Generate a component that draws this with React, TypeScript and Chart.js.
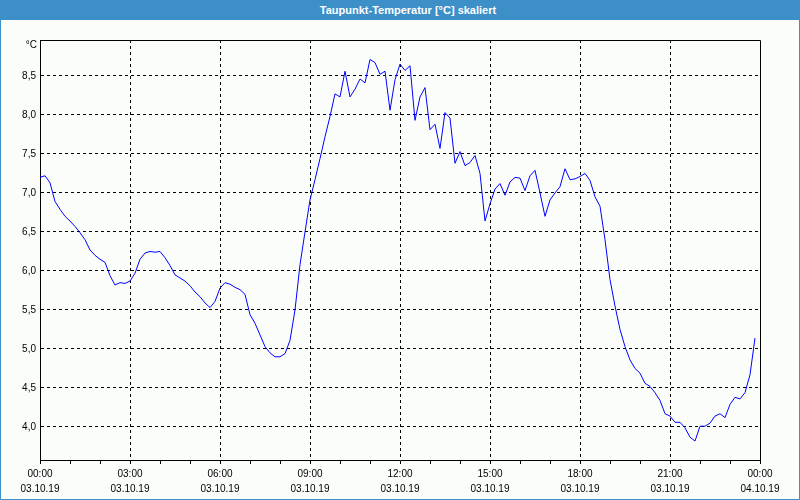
import React, { useEffect, useRef } from 'react';
import { Chart, registerables } from 'chart.js';

Chart.register(...registerables);

const chartTitle = 'Taupunkt-Temperatur [°C] skaliert';
const unitLabel = '°C';
const stepMinutes = 10;

// Dew point, one value every 10 minutes from 03.10.19 00:00 to 23:50
const dewPoint = [
  7.20, 7.22, 7.13, 6.89, 6.79, 6.70, 6.64, 6.57, 6.49, 6.40,
  6.27, 6.20, 6.15, 6.11, 5.94, 5.82, 5.85, 5.84, 5.87, 5.97,
  6.15, 6.23, 6.25, 6.24, 6.25, 6.17, 6.07, 5.95, 5.91, 5.87,
  5.81, 5.73, 5.67, 5.59, 5.53, 5.61, 5.78, 5.85, 5.83, 5.79,
  5.76, 5.70, 5.44, 5.33, 5.18, 5.03, 4.95, 4.90, 4.90, 4.94,
  5.11, 5.50, 6.08, 6.50, 6.91, 7.17, 7.44, 7.72, 7.98, 8.27,
  8.23, 8.56, 8.23, 8.33, 8.46, 8.41, 8.71, 8.67, 8.52, 8.56,
  8.06, 8.45, 8.65, 8.57, 8.63, 7.93, 8.23, 8.35, 7.81, 7.88,
  7.57, 8.03, 7.96, 7.38, 7.53, 7.35, 7.39, 7.48, 7.25, 6.64,
  6.86, 7.05, 7.12, 6.97, 7.14, 7.20, 7.19, 7.03, 7.22, 7.29,
  7.00, 6.70, 6.91, 7.00, 7.08, 7.31, 7.17, 7.18, 7.21, 7.25,
  7.16, 6.95, 6.83, 6.40, 5.89, 5.55, 5.25, 5.03, 4.86, 4.75,
  4.69, 4.56, 4.52, 4.44, 4.34, 4.17, 4.14, 4.06, 4.06, 3.99,
  3.87, 3.82, 4.01, 4.01, 4.05, 4.14, 4.17, 4.12, 4.29, 4.38,
  4.36, 4.44, 4.67, 5.14,
];

const xTickHours = ['00:00', '03:00', '06:00', '09:00', '12:00', '15:00', '18:00', '21:00', '00:00'];
const xTickDates = ['03.10.19', '03.10.19', '03.10.19', '03.10.19', '03.10.19', '03.10.19', '03.10.19', '03.10.19', '04.10.19'];
const yTickValues = [4.0, 4.5, 5.0, 5.5, 6.0, 6.5, 7.0, 7.5, 8.0, 8.5];
const yMin = 3.577;
const yMax = 8.96;
const xMin = 0;
const xMax = 1440;

const FONT = '"Liberation Sans", Arial, sans-serif';

const framePlugin = {
  id: 'frame',
  afterDatasetsDraw(chart: any) {
    const { ctx, chartArea: a } = chart;
    ctx.save();
    ctx.strokeStyle = '#000';
    ctx.lineWidth = 1;
    ctx.setLineDash([]);
    const l = Math.round(a.left) + 0.5;
    const t = Math.round(a.top) + 0.5;
    const r = Math.round(a.right) + 0.5;
    ctx.beginPath();
    ctx.moveTo(l, t);
    ctx.lineTo(r, t);
    ctx.lineTo(r, Math.round(a.bottom) + 0.5);
    ctx.stroke();
    ctx.restore();
  },
  afterDraw(chart: any) {
    const { ctx, chartArea: a } = chart;
    ctx.save();
    ctx.font = `10px ${FONT}`;
    ctx.fillStyle = '#000';
    ctx.textAlign = 'right';
    ctx.textBaseline = 'middle';
    ctx.fillText(unitLabel, a.left - 3, a.top + 5);
    ctx.restore();
  },
};

export default function App() {
  const ref = useRef<HTMLCanvasElement>(null);

  useEffect(() => {
    if (!ref.current) return;
    const points = dewPoint.map((v, i) => ({ x: i * stepMinutes, y: v }));
    const chart = new Chart(ref.current, {
      type: 'line',
      data: {
        datasets: [
          {
            data: points,
            borderColor: '#0000ff',
            borderWidth: 1,
            pointRadius: 0,
            tension: 0,
            fill: false,
          },
        ],
      },
      options: {
        animation: false,
        responsive: false,
        maintainAspectRatio: false,
        layout: { padding: { top: 20, right: 39, left: 0, bottom: 0 } },
        plugins: {
          legend: { display: false },
          tooltip: { enabled: false },
          title: { display: false },
        },
        scales: {
          x: {
            type: 'linear',
            min: xMin,
            max: xMax,
            afterFit: (s: any) => {
              s.height = 39;
            },
            afterBuildTicks: (s: any) => {
              const t = [];
              for (let v = xMin; v <= xMax; v += 60) t.push({ value: v });
              s.ticks = t;
            },
            border: { display: true, color: '#000', width: 1, dash: [3, 3] },
            grid: {
              color: (c: any) =>
                c.tick && c.tick.value % 180 === 0 && c.tick.value !== xMax ? '#000' : 'rgba(0,0,0,0)',
              tickColor: '#000',
              tickLength: 4,
              lineWidth: 1,
              drawTicks: true,
            },
            ticks: {
              autoSkip: false,
              maxRotation: 0,
              padding: 3,
              color: '#000',
              font: { family: FONT, size: 10, lineHeight: 1.5 },
              callback: (value: any) => {
                const v = Number(value);
                if (v % 180 !== 0) return '';
                const i = v / 180;
                return [xTickHours[i], xTickDates[i]];
              },
            },
          },
          y: {
            type: 'linear',
            min: yMin,
            max: yMax,
            afterFit: (s: any) => {
              s.width = 39;
            },
            afterBuildTicks: (s: any) => {
              s.ticks = yTickValues.map((v) => ({ value: v }));
            },
            border: { display: true, color: '#000', width: 1, dash: [3, 3] },
            grid: {
              color: '#000',
              lineWidth: 1,
              drawTicks: false,
            },
            ticks: {
              padding: 4,
              color: '#000',
              font: { family: FONT, size: 10 },
              callback: (value: any) => Number(value).toFixed(1).replace('.', ','),
            },
          },
        },
      },
      plugins: [framePlugin],
    });
    return () => chart.destroy();
  }, []);

  return (
    <div
      style={{
        position: 'fixed',
        left: 0,
        top: 0,
        width: 800,
        height: 500,
        background: '#3c8fc7',
        boxSizing: 'border-box',
      }}
    >
      <div
        style={{
          position: 'absolute',
          left: 0,
          top: 0,
          width: 800,
          height: 20,
          lineHeight: '20px',
          textAlign: 'center',
          color: '#fff',
          fontFamily: FONT,
          fontWeight: 'bold',
          fontSize: 11,
          paddingLeft: 16,
          boxSizing: 'border-box',
        }}
      >
        {chartTitle}
      </div>
      <canvas
        ref={ref}
        width={798}
        height={479}
        style={{ position: 'absolute', left: 1, top: 20, width: 798, height: 479, background: '#fbfdfb' }}
      />
    </div>
  );
}
